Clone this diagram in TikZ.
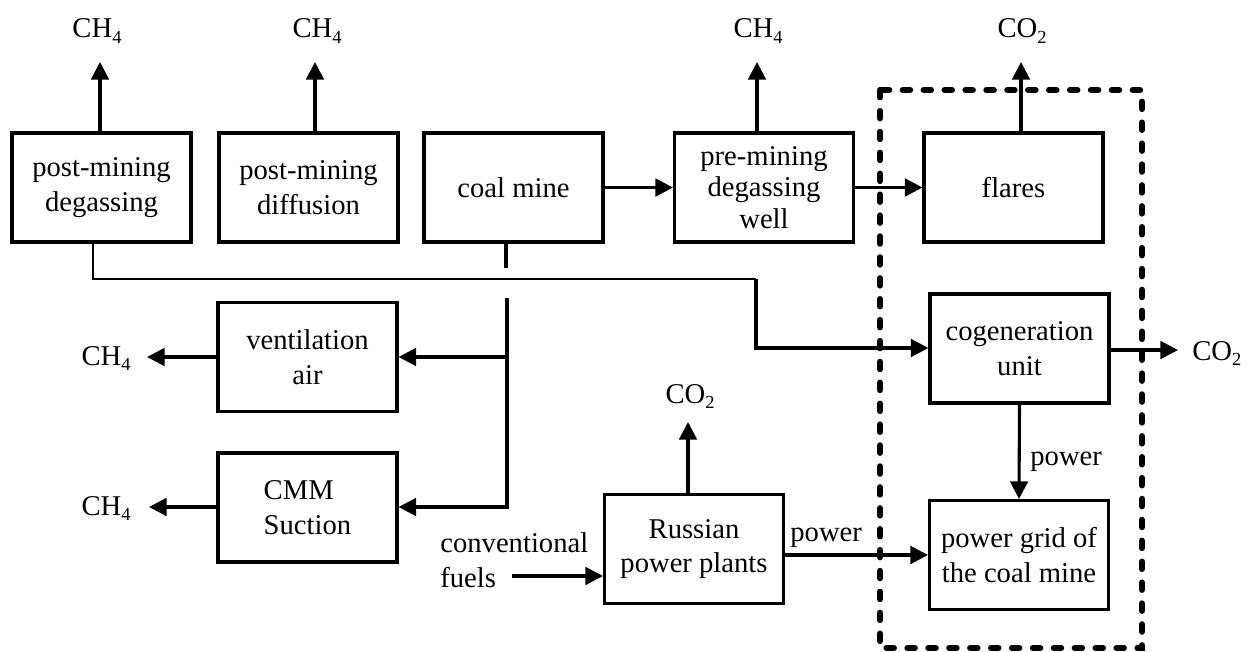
\documentclass[tikz,border=0pt]{standalone}
\usepackage{fontspec}
\setmainfont{Liberation Serif}
\usetikzlibrary{arrows.meta}
\newcommand{\dgfont}{\fontsize{16.3}{19.6}\selectfont}
\newcommand{\dgfontb}{\fontsize{16.3}{17.8}\selectfont}
\newcommand{\dgsub}[1]{\raisebox{-3.2pt}{\fontsize{10.5}{10.5}\selectfont #1}}
\begin{document}
\begin{tikzpicture}[x=0.02cm,y=-0.02cm,
  box/.style={draw,line width=1.75pt,minimum width=3.58cm,minimum height=2.18cm,align=center,inner sep=0pt,font=\dgfont},
  lbl/.style={inner sep=0pt,font=\dgfont},
  ln/.style={line width=1.75pt},
  thinln/.style={line width=0.9pt},
  arr/.style={line width=1.75pt,-{Triangle[length=10pt,width=10pt]}},
  dashbox/.style={line width=3.5pt,dash pattern=on 4.2pt off 7.7pt,line cap=round}]
\useasboundingbox (0,0) rectangle (1247,652);

% boxes
\node[box] (pmd) at (101.5,187.5) {post-mining\\degassing};
\node[box] (pdf) at (308.5,187.5) {post-mining\\diffusion};
\node[box] (cm) at (513.5,187.5) {coal mine};
\node[box,font=\dgfontb] (pre) at (764,187.5) {pre-mining\\degassing\\well};
\node[box] (fl) at (1013.5,187.5) {flares};
\node[box] (va) at (307.5,357) {ventilation\\air};
\node[box,align=left] (cmm) at (307.5,507.5) {CMM\\Suction};
\node[box] (rpp) at (694,549) {Russian\\power plants};
\node[box] (cog) at (1019.5,348.5) {cogeneration\\unit};
\node[box] (grid) at (1019,555) {power grid of\\the coal mine};

% labels
\node[lbl,anchor=base] (ch1) at (97,38) {CH\dgsub{4}};
\node[lbl,anchor=base] (ch2) at (317,38) {CH\dgsub{4}};
\node[lbl,anchor=base] (ch3) at (758,38) {CH\dgsub{4}};
\node[lbl,anchor=base] (co1) at (1022,38) {CO\dgsub{2}};
\node[lbl,anchor=base east] (ch4) at (131,365) {CH\dgsub{4}};
\node[lbl,anchor=base east] (ch5) at (131,515) {CH\dgsub{4}};
\node[lbl,anchor=base] (co2) at (690,403) {CO\dgsub{2}};
\node[lbl,anchor=base west] (co3) at (1192,360) {CO\dgsub{2}};
\node[lbl,anchor=base west] (pw1) at (790,541) {power};
\node[lbl,anchor=base west] (pw2) at (1030,465) {power};
\node[lbl,anchor=base west,align=left] (cf) at (440,587) {conventional\\fuels};

% coordinates
\coordinate (t1) at (100,62);
\coordinate (t2) at (315,62);
\coordinate (t3) at (757,62);
\coordinate (t4) at (1021,62);
\coordinate (t5) at (147,357);
\coordinate (t6) at (149,507);
\coordinate (t7) at (688,422);
\coordinate (t8) at (1178,350);
\coordinate (j1) at (506,268);
\coordinate (j2) at (507,298);
\coordinate (j3) at (507,507);
\coordinate (j4) at (507,357);
\coordinate (k1) at (93,279);
\coordinate (k2) at (756,279);
\coordinate (k3) at (756,348);
\coordinate (q) at (850,555);
\coordinate (f1) at (512,576);

% emission arrows
\draw[arr] (pmd.north -| t1) -- (t1);
\draw[arr] (pdf.north -| t2) -- (t2);
\draw[arr] (pre.north -| t3) -- (t3);
\draw[arr] (fl.north -| t4) -- (t4);
\draw[arr] (va.west |- t5) -- (t5);
\draw[arr] (cmm.west |- t6) -- (t6);
\draw[arr] (rpp.north -| t7) -- (t7);
\draw[arr] (cog.east |- t8) -- (t8);

% flows
\draw[arr] (cm.east) -- (pre.west);
\draw[arr] (pre.east) -- (fl.west);
\draw[ln] (cm.south -| j1) -- (j1);
\draw[arr] (j2) -- (j3) -- (cmm.east |- j3);
\draw[arr] (j4) -- (va.east |- j4);
\draw[thinln] (pmd.south -| k1) -- (k1) -- (k2);
\draw[arr] (k2) -- (k3) -- (cog.west |- k3);
\draw[arr] (cog.south) -- (grid.north);
\draw[arr] (rpp.east |- q) -- (grid.west |- q);
\draw[arr] (f1) -- (rpp.west |- f1);

% boundary
\draw[dashbox] (880,90) rectangle (1142,648);
\end{tikzpicture}
\end{document}
